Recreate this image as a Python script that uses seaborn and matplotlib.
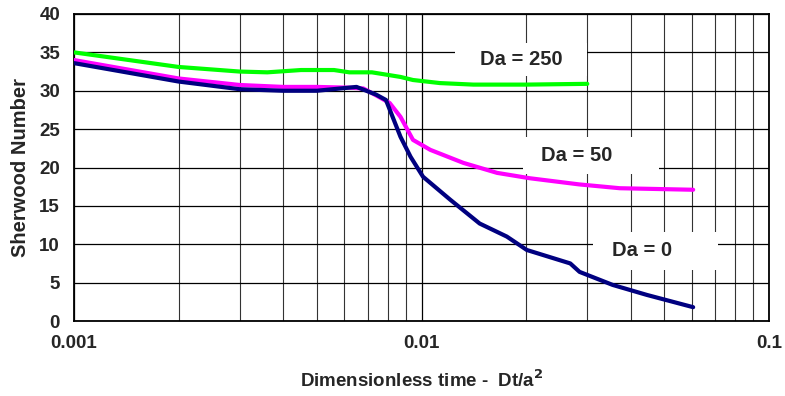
import numpy as np
import pandas as pd
import matplotlib
matplotlib.use("Agg")
import matplotlib.pyplot as plt
import seaborn as sns
from matplotlib.ticker import LogLocator, FixedLocator, NullFormatter

# ---- data ----
x_da250 = [0.001, 0.002, 0.003, 0.0036, 0.0045, 0.0056, 0.0062, 0.0072, 0.0087, 0.00945, 0.0113, 0.0141, 0.02, 0.03]
y_da250 = [35.0, 33.1, 32.5, 32.4, 32.7, 32.7, 32.4, 32.4, 31.8, 31.4, 31.0, 30.8, 30.8, 30.9]

x_da50 = [0.001, 0.002, 0.003, 0.004, 0.005, 0.0062, 0.0068, 0.0074, 0.0081, 0.0087, 0.00945,
          0.0106, 0.0132, 0.0165, 0.0205, 0.0284, 0.0372, 0.0605]
y_da50 = [34.0, 31.6, 30.75, 30.5, 30.5, 30.4, 30.3, 29.4, 28.4, 26.6, 23.6,
          22.3, 20.6, 19.3, 18.6, 17.8, 17.3, 17.1]

x_da0 = [0.001, 0.002, 0.003, 0.004, 0.005, 0.0065, 0.0074, 0.0079, 0.0087, 0.0093, 0.0101,
         0.0121, 0.0147, 0.0176, 0.0201, 0.0268, 0.0285, 0.0355, 0.0445, 0.0605]
y_da0 = [33.6, 31.2, 30.2, 30.0, 30.0, 30.5, 29.5, 28.8, 24.0, 21.4, 18.8,
         15.8, 12.7, 11.0, 9.25, 7.5, 6.4, 4.7, 3.4, 1.8]

series_names = ["Da = 250", "Da = 50", "Da = 0"]
series_colors = ["#00FF00", "#FF00FF", "#000080"]
x_ticks = [0.001, 0.01, 0.1]
x_tick_labels = ["0.001", "0.01", "0.1"]
y_ticks = [0, 5, 10, 15, 20, 25, 30, 35, 40]

df = pd.concat([
    pd.DataFrame({"t": x_da250, "Sh": y_da250, "series": series_names[0]}),
    pd.DataFrame({"t": x_da50, "Sh": y_da50, "series": series_names[1]}),
    pd.DataFrame({"t": x_da0, "Sh": y_da0, "series": series_names[2]}),
], ignore_index=True)

sns.set_style("white")
plt.rcParams["font.family"] = ["Liberation Sans", "DejaVu Sans"]
plt.rcParams["font.weight"] = "bold"

fig = plt.figure(figsize=(7.85, 3.96), dpi=100)
ax = fig.add_axes([74/785, 1 - 321/396, (769 - 74)/785, (321 - 14)/396])

ax.set_xscale("log")
ax.set_xlim(0.001, 0.1)
ax.set_ylim(0, 40)

sns.lineplot(data=df, x="t", y="Sh", hue="series", hue_order=series_names,
             palette=dict(zip(series_names, series_colors)), estimator=None,
             sort=False, linewidth=3.0, legend=False, ax=ax, zorder=5)

# grid
ax.set_axisbelow(True)
ax.xaxis.set_major_locator(FixedLocator(x_ticks))
ax.xaxis.set_minor_locator(LogLocator(base=10, subs=np.arange(2, 10)))
ax.xaxis.set_minor_formatter(NullFormatter())
ax.set_xticks(x_ticks)
ax.set_xticklabels(x_tick_labels)
ax.set_yticks(y_ticks)
ax.grid(True, which="major", axis="both", color="black", linewidth=0.9)
ax.grid(True, which="minor", axis="x", color="#333333", linewidth=0.8)

ax.tick_params(axis="both", which="major", direction="out", length=5, width=1,
               color="black", labelsize=13.5, pad=5)
ax.tick_params(axis="x", which="minor", length=0)
for lab in ax.get_xticklabels() + ax.get_yticklabels():
    lab.set_fontweight("bold")

for sp in ax.spines.values():
    sp.set_visible(True)
    sp.set_color("black")
    sp.set_linewidth(1.3)

ax.set_xlabel("Dimensionless time -  Dt/a$^{\\mathbf{2}}$", fontsize=13.5, fontweight="bold", labelpad=13)
ax.set_ylabel("Sherwood Number", fontsize=14.5, fontweight="bold", labelpad=7)

# label boxes (white backgrounds hiding the grid) and texts
boxes = [
    (0.01248, 0.02994, 31.9, 36.2),
    (0.01959, 0.0483, 19.15, 24.0),
    (0.03114, 0.0713, 6.65, 11.6),
]
text_pos = [(0.01933, 34.1), (0.0280, 21.5), (0.0431, 9.25)]
for (x0, x1, y0, y1), (tx, ty), name in zip(boxes, text_pos, series_names):
    ax.fill_between([x0, x1], [y0, y0], [y1, y1], color="white", zorder=3, linewidth=0)
    ax.text(tx, ty, name, fontsize=14.5, fontweight="bold", ha="center", va="center", zorder=6)

fig.savefig("out.png", dpi=100, facecolor="white")
